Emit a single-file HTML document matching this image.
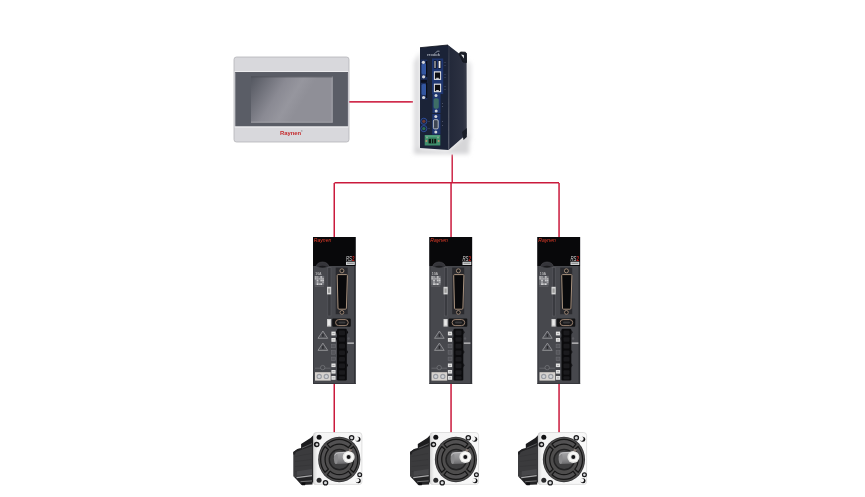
<!DOCTYPE html>
<html><head><meta charset="utf-8">
<style>
html,body{margin:0;padding:0;background:#fff;width:865px;height:497px;overflow:hidden;}
svg{position:absolute;left:0;top:0;display:block;will-change:transform;}
text{font-family:"Liberation Sans",sans-serif;}
</style></head>
<body>
<svg width="865" height="497" viewBox="0 0 865 497">
<defs>
  <linearGradient id="scr" gradientUnits="userSpaceOnUse" x1="251" y1="76" x2="300" y2="106">
    <stop offset="0" stop-color="#53565f"/>
    <stop offset="0.55" stop-color="#8a8a93"/>
    <stop offset="0.8" stop-color="#96969e"/>
    <stop offset="1" stop-color="#8f8f97"/>
  </linearGradient>
  <linearGradient id="ipcshadow" x1="0" y1="0" x2="1" y2="0">
    <stop offset="0" stop-color="#ffffff"/>
    <stop offset="1" stop-color="#d4d4d6"/>
  </linearGradient>
  <linearGradient id="ipcshadowR" x1="0" y1="0" x2="1" y2="0">
    <stop offset="0" stop-color="#d8d8da"/>
    <stop offset="1" stop-color="#ffffff"/>
  </linearGradient>
  <filter id="blur2" x="-50%" y="-50%" width="200%" height="200%"><feGaussianBlur stdDeviation="2"/></filter>
  <linearGradient id="ipcside" x1="0" y1="0" x2="1" y2="0">
    <stop offset="0" stop-color="#222839"/>
    <stop offset="0.8" stop-color="#2c3141"/>
    <stop offset="1" stop-color="#3a3e4c"/>
  </linearGradient>
  <linearGradient id="ipcfloor" x1="0" y1="0" x2="0" y2="1">
    <stop offset="0" stop-color="#c8c8ca"/>
    <stop offset="1" stop-color="#f4f4f4"/>
  </linearGradient>

  <!-- servo drive, origin top-left, 42x147 -->
  

  <linearGradient id="shaftg" x1="0" y1="0" x2="0" y2="1">
    <stop offset="0" stop-color="#a8a8aa"/>
    <stop offset="0.6" stop-color="#8c8c8e"/>
    <stop offset="1" stop-color="#6a6a6c"/>
  </linearGradient>
  <linearGradient id="flangeg" x1="0" y1="0" x2="1" y2="0">
    <stop offset="0" stop-color="#d6d6d6"/>
    <stop offset="0.08" stop-color="#f4f4f4"/>
    <stop offset="1" stop-color="#f8f8f8"/>
  </linearGradient>
  <!-- servo motor, origin = flange top-left -->
  
</defs>

<!-- red connection lines -->
<g fill="#ca1a3c">
  <rect x="348.5" y="101" width="64.5" height="1.7" fill="#d02c4c"/>
  <rect x="451.5" y="154.5" width="1.4" height="28"/>
  <rect x="334.5" y="182" width="224.5" height="1.5"/>
  <rect x="333.5" y="183" width="1.5" height="54"/>
  <rect x="450.3" y="183" width="1.5" height="54"/>
  <rect x="558.3" y="183" width="1.5" height="54"/>
  <rect x="333.5" y="384" width="1.5" height="48.5"/>
  <rect x="450.3" y="384" width="1.5" height="48.5"/>
  <rect x="558.3" y="384" width="1.5" height="48.5"/>
</g>

<!-- HMI -->
<g>
  <rect x="234" y="57" width="115" height="85" rx="2.5" fill="#d8d8dc" stroke="#b4b4b8" stroke-width="0.8"/>
  <rect x="235.3" y="72" width="112.6" height="54.5" fill="#5a5d66"/>
  <rect x="235.3" y="72" width="112.6" height="1" fill="#4c4f58"/>
  <rect x="234.6" y="71.2" width="113.8" height="0.9" fill="#f2f2f4"/>
  <rect x="234.6" y="126.5" width="113.8" height="1" fill="#f2f2f4"/>
  <rect x="251" y="76.5" width="81.5" height="46" fill="url(#scr)"/>
  <rect x="331.7" y="76.5" width="0.9" height="46" fill="#a8a8ae"/>
  <rect x="251" y="121.7" width="81.5" height="0.9" fill="#a4a4aa"/>
  <rect x="251" y="76.5" width="81.5" height="0.8" fill="#4a4d55"/>
  <text x="279.9" y="134.9" font-size="5.8" font-weight="bold" fill="#c42a2c" textLength="21.3" lengthAdjust="spacingAndGlyphs">Raynen</text>
  <circle cx="301.8" cy="130.9" r="0.7" fill="#8a8a8e"/>
</g>

<!-- IPC -->
<g>
  <g filter="url(#blur2)">
    <path d="M414,62 L420,52 L420,150 L414,152 Z" fill="#dcdcde"/>
    <path d="M466,60 L471,64 L471,140 L466,136 Z" fill="#e2e2e4"/>
    <path d="M414,148 L448.5,150.5 L467,133 L470,136 L469,154 L414,154 Z" fill="#d6d6d8"/>
  </g>
  <path d="M448,45 L459,53.5 L466.6,53 L466.8,134 L448.5,150 Z" fill="url(#ipcside)"/>
  <path d="M459,53.8 L460.5,52 L465.4,52.2 L466.3,53.5 L466.5,62.5 L463,62 Z" fill="#1a1e28" stroke="#10131a" stroke-width="0.8" stroke-linejoin="round"/>
  <path d="M461,54.6 L463.8,55 L464,58.6 Z" fill="#eef0f2"/>
  <path d="M462,132 L466.8,128 L466.8,137 L463.5,140 Z" fill="#1a1e28"/>
  <path d="M449,46 L449.5,149" stroke="#3a4052" stroke-width="0.8"/>
  <path d="M420,47.7 L448,45 L448.5,150 L420,148 Z" fill="#1b2337"/>
  <path d="M420,47.7 L448,45" stroke="#0a0e18" stroke-width="0.8"/>
  <text x="427" y="55.9" font-size="4.4" fill="#aeb4c0" font-weight="bold" textLength="13" lengthAdjust="spacingAndGlyphs">rexdok</text>
  <path d="M435.5,53 Q437,50.2 439.5,51.2" fill="none" stroke="#9aa2b0" stroke-width="0.9"/>
  <!-- left DB9s -->
  <rect x="420.7" y="59.5" width="6.6" height="40" fill="#1d2f5c"/>
  <rect x="421.6" y="63.6" width="4.8" height="11" rx="1.6" fill="#3356a0"/>
  <rect x="426" y="61" width="1.3" height="16" fill="#0a0e18"/>
  <circle cx="423.4" cy="62.3" r="1.6" fill="#d4d6da"/>
  <circle cx="423.6" cy="76.8" r="1.6" fill="#d4d6da"/>
  <rect x="421" y="79.8" width="6" height="3" fill="#0c1020"/>
  <rect x="421.6" y="84" width="4.8" height="11" rx="1.6" fill="#3356a0"/>
  <rect x="426" y="83" width="1.3" height="15" fill="#0a0e18"/>
  <circle cx="423.6" cy="97.5" r="1.6" fill="#d4d6da"/>
  <!-- USB / RJ45 column -->
  <rect x="432" y="58.5" width="11.2" height="35.5" fill="#1f3670"/>
  <rect x="433.8" y="60.5" width="2.8" height="8" fill="#0c0c10"/>
  <rect x="434.4" y="61" width="1.2" height="7" fill="#c8c8ca"/>
  <rect x="438.2" y="60.5" width="3" height="8" fill="#0c0c10"/>
  <rect x="438.6" y="61" width="1.9" height="7" fill="#eeeef0"/>
  <rect x="433.9" y="71.3" width="7.2" height="8.6" fill="#e4e4e6"/>
  <rect x="434.9" y="72.5" width="5.2" height="6.3" fill="#0e0e12"/>
  <rect x="436.2" y="77.8" width="2.6" height="1" fill="#e4e4e6"/>
  <rect x="433.9" y="83.6" width="7.2" height="8.6" fill="#e4e4e6"/>
  <rect x="434.9" y="84.8" width="5.2" height="6.3" fill="#0e0e12"/>
  <rect x="436.2" y="90.1" width="2.6" height="1" fill="#e4e4e6"/>
  <g fill="#4a5066">
    <rect x="444.5" y="62" width="1" height="1"/><rect x="444.5" y="65" width="1" height="1"/>
    <rect x="444.5" y="74" width="1" height="1"/><rect x="444.5" y="77" width="1" height="1"/>
    <rect x="444.5" y="86" width="1" height="1"/><rect x="444.5" y="89" width="1" height="1"/>
    <rect x="442" y="103" width="1" height="1"/><rect x="442" y="106" width="1" height="1"/>
    <rect x="442" y="121" width="1" height="1"/><rect x="442" y="125" width="1" height="1"/>
    <rect x="428.5" y="121" width="1" height="1"/><rect x="428.5" y="128" width="1" height="1"/>
  </g>
  <!-- green DB9 -->
  <rect x="432.5" y="93.5" width="8" height="19.5" fill="#1f3670"/>
  <circle cx="436" cy="95.6" r="1.5" fill="#d4d6da"/>
  <rect x="433.6" y="98.3" width="5.2" height="10.5" rx="1.8" fill="#3e6e66"/>
  <circle cx="436.2" cy="111" r="1.5" fill="#d4d6da"/>
  <!-- gray DB9 -->
  <rect x="432.2" y="114" width="8.2" height="20.5" fill="#1f3670"/>
  <circle cx="435.8" cy="116.5" r="1.5" fill="#d4d6da"/>
  <rect x="433.4" y="119.7" width="4.8" height="9.2" rx="1.2" fill="#3e4654" stroke="#c4c8d0" stroke-width="0.9"/>
  <circle cx="435.8" cy="132" r="1.5" fill="#d4d6da"/>
  <!-- LEDs -->
  <circle cx="423.8" cy="121.3" r="3.1" fill="#1a2544" stroke="#2d4c96" stroke-width="1"/>
  <circle cx="423.8" cy="121.3" r="1.6" fill="#6e3a30"/>
  <circle cx="423.8" cy="128.6" r="3.1" fill="#1a2544" stroke="#2d4c96" stroke-width="1"/>
  <circle cx="423.8" cy="128.6" r="1.6" fill="#2e6e50"/>
  <!-- green terminal -->
  <rect x="424.7" y="135" width="15.6" height="10.5" fill="#3f8f6c"/>
  <rect x="425.2" y="135.5" width="14.6" height="1.2" fill="#5aa886"/>
  <circle cx="427" cy="137.5" r="1" fill="#8aa890"/>
  <circle cx="438" cy="137.5" r="1" fill="#8aa890"/>
  <circle cx="426.4" cy="141" r="1" fill="#c09070"/>
  <circle cx="438.6" cy="141" r="1" fill="#c09070"/>
  <rect x="428.6" y="138.8" width="7.6" height="4.6" fill="#0e1612"/>
  <rect x="431" y="138.8" width="0.8" height="4.6" fill="#3f8f6c"/>
  <rect x="433.4" y="138.8" width="0.8" height="4.6" fill="#3f8f6c"/>
</g>

<!-- drives -->
<g transform="translate(313,237)">
    <rect x="0" y="0" width="42.6" height="147" fill="#47484d"/>
    <rect x="0" y="0" width="1" height="147" fill="#36373c"/>
    <rect x="41" y="29" width="1.6" height="118" fill="#313237"/>
    <rect x="0" y="146" width="42.6" height="1" fill="#36373c"/>
    <rect x="0" y="0" width="42.6" height="29" fill="#08080a"/>
    <path d="M3,30.5 Q3.5,25.2 9.5,25 Q15.5,25.2 16,30.5 Z" fill="#35353a" stroke="#55555a" stroke-width="0.5"/>
    <path d="M5,30 Q9.5,27.5 14,30 Q9.5,31.5 5,30 Z" fill="#1a1a1d"/>
    <text x="0.8" y="4.7" font-size="5.5" fill="#e03a28" font-style="italic" textLength="17.5" lengthAdjust="spacingAndGlyphs">Raynen</text>
    <!-- RS2 logo -->
    <text x="33" y="23.8" font-size="6.6" fill="#d8d8d8" font-style="italic" textLength="6" lengthAdjust="spacingAndGlyphs">RS</text>
    <text x="39" y="23.8" font-size="6.6" fill="#c8201c" font-weight="bold" textLength="2.6" lengthAdjust="spacingAndGlyphs">2</text>
    <rect x="33" y="24.7" width="8.8" height="3.3" fill="#cfd2d4"/>
    <rect x="34" y="25.8" width="6.8" height="0.8" fill="#6a6a6a"/>
    <!-- label text block -->
    <text x="2.2" y="38.4" font-size="3" fill="#b4b4b6" font-weight="bold" textLength="6.5" lengthAdjust="spacingAndGlyphs">10A</text>
    <rect x="1.6" y="38.9" width="9.6" height="9.4" fill="#6e6f74"/>
    <rect x="1.80" y="39.10" width="1.75" height="1.7" fill="#b0b0b2"/>
    <rect x="3.65" y="39.10" width="1.75" height="1.7" fill="#a0a0a4"/>
    <rect x="7.35" y="39.10" width="1.75" height="1.7" fill="#c8c8ca"/>
    <rect x="1.80" y="40.90" width="1.75" height="1.7" fill="#b0b0b2"/>
    <rect x="3.65" y="40.90" width="1.75" height="1.7" fill="#a0a0a4"/>
    <rect x="5.50" y="40.90" width="1.75" height="1.7" fill="#a0a0a4"/>
    <rect x="7.35" y="40.90" width="1.75" height="1.7" fill="#b0b0b2"/>
    <rect x="9.20" y="40.90" width="1.75" height="1.7" fill="#b0b0b2"/>
    <rect x="3.65" y="42.70" width="1.75" height="1.7" fill="#c8c8ca"/>
    <rect x="7.35" y="42.70" width="1.75" height="1.7" fill="#c8c8ca"/>
    <rect x="9.20" y="42.70" width="1.75" height="1.7" fill="#c8c8ca"/>
    <rect x="3.65" y="44.50" width="1.75" height="1.7" fill="#a0a0a4"/>
    <rect x="9.20" y="44.50" width="1.75" height="1.7" fill="#a0a0a4"/>
    <rect x="3.65" y="46.30" width="1.75" height="1.7" fill="#d6d6d8"/>
    <rect x="5.50" y="46.30" width="1.75" height="1.7" fill="#b0b0b2"/>
    <rect x="7.35" y="46.30" width="1.75" height="1.7" fill="#d6d6d8"/>
    <rect x="1.8" y="49" width="9" height="0.6" fill="#66676c"/>
    <!-- vertical slot -->
    <rect x="14.8" y="30.5" width="3.2" height="48.5" fill="#3a3b40" stroke="#5a5b60" stroke-width="0.6"/>
    <rect x="14" y="49.8" width="4.2" height="7.6" fill="#d6d6d6"/>
    <rect x="15" y="51.4" width="2.2" height="4.4" fill="#9a9a9a"/>
    <!-- D-sub connector -->
    <rect x="22.7" y="30.6" width="12" height="46.6" fill="#2a2a2e"/>
    <path d="M25,37.6 L33.6,37.6 Q34.5,37.6 34.4,38.6 L33.4,71.2 Q33.3,72.2 32.4,72.2 L26,72.2 Q25.1,72.2 25,71.2 L24.2,38.6 Q24.2,37.6 25,37.6 Z" fill="#09090b" stroke="#a8927e" stroke-width="1"/>
    <circle cx="28.9" cy="33.8" r="2" fill="#1a1a1c" stroke="#a8927e" stroke-width="0.9"/>
    <circle cx="28.9" cy="75.4" r="1.9" fill="#1a1a1c" stroke="#a08a78" stroke-width="0.9"/>
    <!-- USB style -->
    <rect x="19.2" y="81.6" width="18.6" height="8.2" rx="1" fill="#121214"/>
    <rect x="22.6" y="82.6" width="12.6" height="6" rx="3" fill="#18181a" stroke="#9a8270" stroke-width="1"/>
    <rect x="25.5" y="84.6" width="7" height="2" rx="1" fill="#3a3a3c"/>
    <rect x="14" y="82" width="4.2" height="7.6" fill="#cfcfcf"/>
    <rect x="15" y="83.2" width="2.2" height="5" fill="#eaeaea"/>
    <!-- terminal block -->
    <rect x="24" y="91.8" width="9.8" height="51.6" rx="1.2" fill="#0b0b0d"/>
    <g fill="#1a1a1d">
      <rect x="26" y="93.6" width="6" height="4.6" rx="1"/>
      <rect x="26" y="100.2" width="6" height="4.6" rx="1"/>
      <rect x="26" y="106.8" width="6" height="4.6" rx="1"/>
      <rect x="26" y="113.4" width="6" height="4.6" rx="1"/>
      <rect x="26" y="120" width="6" height="4.6" rx="1"/>
      <rect x="26" y="126.6" width="6" height="4.6" rx="1"/>
      <rect x="26" y="133.2" width="6" height="4.6" rx="1"/>
      <rect x="26" y="139.2" width="6" height="3.4" rx="1"/>
    </g>
    <g fill="#0b0b0d">
      <path d="M24,93 L22.8,95 L24,97.5 Z"/><path d="M24,99.6 L22.8,101.6 L24,104 Z"/>
      <path d="M33.8,93 L35.2,95.2 L33.8,97.5 Z"/><path d="M33.8,112.8 L35,115 L33.8,117.2 Z"/>
      <path d="M33.8,126 L35,128.2 L33.8,130.4 Z"/>
    </g>
    <!-- right of terminal -->
    <circle cx="35.6" cy="101.5" r="1.2" fill="#5a5b60"/>
    <rect x="34.3" y="105.4" width="6.6" height="1.5" fill="#b4b4b6"/>
    <!-- labels next to terminals -->
    <g fill="#e2e2e2">
      <rect x="18.4" y="94.6" width="4.2" height="3.8"/>
      <rect x="18.4" y="101" width="4.2" height="3.8"/>
      <rect x="18.4" y="126.5" width="4.2" height="3.6"/>
      <rect x="18.4" y="133" width="4.2" height="3.6"/>
      <rect x="18.4" y="139" width="4.2" height="3.8"/>
    </g>
    <g fill="#55565b" stroke="#707176" stroke-width="0.5">
      <rect x="18.6" y="107.2" width="3.8" height="3.6"/>
      <rect x="18.6" y="113.6" width="3.8" height="3.6"/>
      <rect x="18.6" y="120.1" width="3.8" height="3.6"/>
    </g>
    <g fill="#8a8a8a">
      <rect x="19.4" y="96.2" width="2.2" height="0.6"/><rect x="19.4" y="102.6" width="2.2" height="0.6"/>
      <rect x="19.4" y="128" width="2.2" height="0.6"/><rect x="19.4" y="134.5" width="2.2" height="0.6"/>
      <rect x="19.4" y="140.6" width="2.2" height="0.6"/>
    </g>
    <!-- warning triangles -->
    <path d="M9.9,94 L14.7,101.3 L5,101.3 Z" fill="#505156" stroke="#9a9a9e" stroke-width="0.8" stroke-linejoin="round"/>
    <path d="M9.9,106.1 L14.7,113.4 L5,113.4 Z" fill="#505156" stroke="#9a9a9e" stroke-width="0.8" stroke-linejoin="round"/>
    <rect x="9.2" y="96.8" width="1.4" height="3" fill="#2a2a2e"/>
    <rect x="9.2" y="108.9" width="1.4" height="3" fill="#2a2a2e"/>
    <!-- ground -->
    <path d="M2,131.2 L17.5,131.2" stroke="#77787c" stroke-width="0.6"/>
    <circle cx="9.7" cy="130.6" r="2.2" fill="#47484d" stroke="#808185" stroke-width="0.6"/>
    <rect x="2" y="135.2" width="15.7" height="8.4" fill="#d6d2ce"/>
    <circle cx="6.2" cy="139.4" r="2.7" fill="#9a9ca2"/>
    <circle cx="6.2" cy="139.4" r="1.5" fill="#d0d2d6"/>
    <circle cx="13.3" cy="139.4" r="2.7" fill="#9a9ca2"/>
    <circle cx="13.3" cy="139.4" r="1.5" fill="#d0d2d6"/>
  </g>
<g transform="translate(429.5,237)">
    <rect x="0" y="0" width="42.6" height="147" fill="#47484d"/>
    <rect x="0" y="0" width="1" height="147" fill="#36373c"/>
    <rect x="41" y="29" width="1.6" height="118" fill="#313237"/>
    <rect x="0" y="146" width="42.6" height="1" fill="#36373c"/>
    <rect x="0" y="0" width="42.6" height="29" fill="#08080a"/>
    <path d="M3,30.5 Q3.5,25.2 9.5,25 Q15.5,25.2 16,30.5 Z" fill="#35353a" stroke="#55555a" stroke-width="0.5"/>
    <path d="M5,30 Q9.5,27.5 14,30 Q9.5,31.5 5,30 Z" fill="#1a1a1d"/>
    <text x="0.8" y="4.7" font-size="5.5" fill="#e03a28" font-style="italic" textLength="17.5" lengthAdjust="spacingAndGlyphs">Raynen</text>
    <!-- RS2 logo -->
    <text x="33" y="23.8" font-size="6.6" fill="#d8d8d8" font-style="italic" textLength="6" lengthAdjust="spacingAndGlyphs">RS</text>
    <text x="39" y="23.8" font-size="6.6" fill="#c8201c" font-weight="bold" textLength="2.6" lengthAdjust="spacingAndGlyphs">2</text>
    <rect x="33" y="24.7" width="8.8" height="3.3" fill="#cfd2d4"/>
    <rect x="34" y="25.8" width="6.8" height="0.8" fill="#6a6a6a"/>
    <!-- label text block -->
    <text x="2.2" y="38.4" font-size="3" fill="#b4b4b6" font-weight="bold" textLength="6.5" lengthAdjust="spacingAndGlyphs">10A</text>
    <rect x="1.6" y="38.9" width="9.6" height="9.4" fill="#6e6f74"/>
    <rect x="1.80" y="39.10" width="1.75" height="1.7" fill="#b0b0b2"/>
    <rect x="3.65" y="39.10" width="1.75" height="1.7" fill="#a0a0a4"/>
    <rect x="7.35" y="39.10" width="1.75" height="1.7" fill="#c8c8ca"/>
    <rect x="1.80" y="40.90" width="1.75" height="1.7" fill="#b0b0b2"/>
    <rect x="3.65" y="40.90" width="1.75" height="1.7" fill="#a0a0a4"/>
    <rect x="5.50" y="40.90" width="1.75" height="1.7" fill="#a0a0a4"/>
    <rect x="7.35" y="40.90" width="1.75" height="1.7" fill="#b0b0b2"/>
    <rect x="9.20" y="40.90" width="1.75" height="1.7" fill="#b0b0b2"/>
    <rect x="3.65" y="42.70" width="1.75" height="1.7" fill="#c8c8ca"/>
    <rect x="7.35" y="42.70" width="1.75" height="1.7" fill="#c8c8ca"/>
    <rect x="9.20" y="42.70" width="1.75" height="1.7" fill="#c8c8ca"/>
    <rect x="3.65" y="44.50" width="1.75" height="1.7" fill="#a0a0a4"/>
    <rect x="9.20" y="44.50" width="1.75" height="1.7" fill="#a0a0a4"/>
    <rect x="3.65" y="46.30" width="1.75" height="1.7" fill="#d6d6d8"/>
    <rect x="5.50" y="46.30" width="1.75" height="1.7" fill="#b0b0b2"/>
    <rect x="7.35" y="46.30" width="1.75" height="1.7" fill="#d6d6d8"/>
    <rect x="1.8" y="49" width="9" height="0.6" fill="#66676c"/>
    <!-- vertical slot -->
    <rect x="14.8" y="30.5" width="3.2" height="48.5" fill="#3a3b40" stroke="#5a5b60" stroke-width="0.6"/>
    <rect x="14" y="49.8" width="4.2" height="7.6" fill="#d6d6d6"/>
    <rect x="15" y="51.4" width="2.2" height="4.4" fill="#9a9a9a"/>
    <!-- D-sub connector -->
    <rect x="22.7" y="30.6" width="12" height="46.6" fill="#2a2a2e"/>
    <path d="M25,37.6 L33.6,37.6 Q34.5,37.6 34.4,38.6 L33.4,71.2 Q33.3,72.2 32.4,72.2 L26,72.2 Q25.1,72.2 25,71.2 L24.2,38.6 Q24.2,37.6 25,37.6 Z" fill="#09090b" stroke="#a8927e" stroke-width="1"/>
    <circle cx="28.9" cy="33.8" r="2" fill="#1a1a1c" stroke="#a8927e" stroke-width="0.9"/>
    <circle cx="28.9" cy="75.4" r="1.9" fill="#1a1a1c" stroke="#a08a78" stroke-width="0.9"/>
    <!-- USB style -->
    <rect x="19.2" y="81.6" width="18.6" height="8.2" rx="1" fill="#121214"/>
    <rect x="22.6" y="82.6" width="12.6" height="6" rx="3" fill="#18181a" stroke="#9a8270" stroke-width="1"/>
    <rect x="25.5" y="84.6" width="7" height="2" rx="1" fill="#3a3a3c"/>
    <rect x="14" y="82" width="4.2" height="7.6" fill="#cfcfcf"/>
    <rect x="15" y="83.2" width="2.2" height="5" fill="#eaeaea"/>
    <!-- terminal block -->
    <rect x="24" y="91.8" width="9.8" height="51.6" rx="1.2" fill="#0b0b0d"/>
    <g fill="#1a1a1d">
      <rect x="26" y="93.6" width="6" height="4.6" rx="1"/>
      <rect x="26" y="100.2" width="6" height="4.6" rx="1"/>
      <rect x="26" y="106.8" width="6" height="4.6" rx="1"/>
      <rect x="26" y="113.4" width="6" height="4.6" rx="1"/>
      <rect x="26" y="120" width="6" height="4.6" rx="1"/>
      <rect x="26" y="126.6" width="6" height="4.6" rx="1"/>
      <rect x="26" y="133.2" width="6" height="4.6" rx="1"/>
      <rect x="26" y="139.2" width="6" height="3.4" rx="1"/>
    </g>
    <g fill="#0b0b0d">
      <path d="M24,93 L22.8,95 L24,97.5 Z"/><path d="M24,99.6 L22.8,101.6 L24,104 Z"/>
      <path d="M33.8,93 L35.2,95.2 L33.8,97.5 Z"/><path d="M33.8,112.8 L35,115 L33.8,117.2 Z"/>
      <path d="M33.8,126 L35,128.2 L33.8,130.4 Z"/>
    </g>
    <!-- right of terminal -->
    <circle cx="35.6" cy="101.5" r="1.2" fill="#5a5b60"/>
    <rect x="34.3" y="105.4" width="6.6" height="1.5" fill="#b4b4b6"/>
    <!-- labels next to terminals -->
    <g fill="#e2e2e2">
      <rect x="18.4" y="94.6" width="4.2" height="3.8"/>
      <rect x="18.4" y="101" width="4.2" height="3.8"/>
      <rect x="18.4" y="126.5" width="4.2" height="3.6"/>
      <rect x="18.4" y="133" width="4.2" height="3.6"/>
      <rect x="18.4" y="139" width="4.2" height="3.8"/>
    </g>
    <g fill="#55565b" stroke="#707176" stroke-width="0.5">
      <rect x="18.6" y="107.2" width="3.8" height="3.6"/>
      <rect x="18.6" y="113.6" width="3.8" height="3.6"/>
      <rect x="18.6" y="120.1" width="3.8" height="3.6"/>
    </g>
    <g fill="#8a8a8a">
      <rect x="19.4" y="96.2" width="2.2" height="0.6"/><rect x="19.4" y="102.6" width="2.2" height="0.6"/>
      <rect x="19.4" y="128" width="2.2" height="0.6"/><rect x="19.4" y="134.5" width="2.2" height="0.6"/>
      <rect x="19.4" y="140.6" width="2.2" height="0.6"/>
    </g>
    <!-- warning triangles -->
    <path d="M9.9,94 L14.7,101.3 L5,101.3 Z" fill="#505156" stroke="#9a9a9e" stroke-width="0.8" stroke-linejoin="round"/>
    <path d="M9.9,106.1 L14.7,113.4 L5,113.4 Z" fill="#505156" stroke="#9a9a9e" stroke-width="0.8" stroke-linejoin="round"/>
    <rect x="9.2" y="96.8" width="1.4" height="3" fill="#2a2a2e"/>
    <rect x="9.2" y="108.9" width="1.4" height="3" fill="#2a2a2e"/>
    <!-- ground -->
    <path d="M2,131.2 L17.5,131.2" stroke="#77787c" stroke-width="0.6"/>
    <circle cx="9.7" cy="130.6" r="2.2" fill="#47484d" stroke="#808185" stroke-width="0.6"/>
    <rect x="2" y="135.2" width="15.7" height="8.4" fill="#d6d2ce"/>
    <circle cx="6.2" cy="139.4" r="2.7" fill="#9a9ca2"/>
    <circle cx="6.2" cy="139.4" r="1.5" fill="#d0d2d6"/>
    <circle cx="13.3" cy="139.4" r="2.7" fill="#9a9ca2"/>
    <circle cx="13.3" cy="139.4" r="1.5" fill="#d0d2d6"/>
  </g>
<g transform="translate(537.5,237)">
    <rect x="0" y="0" width="42.6" height="147" fill="#47484d"/>
    <rect x="0" y="0" width="1" height="147" fill="#36373c"/>
    <rect x="41" y="29" width="1.6" height="118" fill="#313237"/>
    <rect x="0" y="146" width="42.6" height="1" fill="#36373c"/>
    <rect x="0" y="0" width="42.6" height="29" fill="#08080a"/>
    <path d="M3,30.5 Q3.5,25.2 9.5,25 Q15.5,25.2 16,30.5 Z" fill="#35353a" stroke="#55555a" stroke-width="0.5"/>
    <path d="M5,30 Q9.5,27.5 14,30 Q9.5,31.5 5,30 Z" fill="#1a1a1d"/>
    <text x="0.8" y="4.7" font-size="5.5" fill="#e03a28" font-style="italic" textLength="17.5" lengthAdjust="spacingAndGlyphs">Raynen</text>
    <!-- RS2 logo -->
    <text x="33" y="23.8" font-size="6.6" fill="#d8d8d8" font-style="italic" textLength="6" lengthAdjust="spacingAndGlyphs">RS</text>
    <text x="39" y="23.8" font-size="6.6" fill="#c8201c" font-weight="bold" textLength="2.6" lengthAdjust="spacingAndGlyphs">2</text>
    <rect x="33" y="24.7" width="8.8" height="3.3" fill="#cfd2d4"/>
    <rect x="34" y="25.8" width="6.8" height="0.8" fill="#6a6a6a"/>
    <!-- label text block -->
    <text x="2.2" y="38.4" font-size="3" fill="#b4b4b6" font-weight="bold" textLength="6.5" lengthAdjust="spacingAndGlyphs">10A</text>
    <rect x="1.6" y="38.9" width="9.6" height="9.4" fill="#6e6f74"/>
    <rect x="1.80" y="39.10" width="1.75" height="1.7" fill="#b0b0b2"/>
    <rect x="3.65" y="39.10" width="1.75" height="1.7" fill="#a0a0a4"/>
    <rect x="7.35" y="39.10" width="1.75" height="1.7" fill="#c8c8ca"/>
    <rect x="1.80" y="40.90" width="1.75" height="1.7" fill="#b0b0b2"/>
    <rect x="3.65" y="40.90" width="1.75" height="1.7" fill="#a0a0a4"/>
    <rect x="5.50" y="40.90" width="1.75" height="1.7" fill="#a0a0a4"/>
    <rect x="7.35" y="40.90" width="1.75" height="1.7" fill="#b0b0b2"/>
    <rect x="9.20" y="40.90" width="1.75" height="1.7" fill="#b0b0b2"/>
    <rect x="3.65" y="42.70" width="1.75" height="1.7" fill="#c8c8ca"/>
    <rect x="7.35" y="42.70" width="1.75" height="1.7" fill="#c8c8ca"/>
    <rect x="9.20" y="42.70" width="1.75" height="1.7" fill="#c8c8ca"/>
    <rect x="3.65" y="44.50" width="1.75" height="1.7" fill="#a0a0a4"/>
    <rect x="9.20" y="44.50" width="1.75" height="1.7" fill="#a0a0a4"/>
    <rect x="3.65" y="46.30" width="1.75" height="1.7" fill="#d6d6d8"/>
    <rect x="5.50" y="46.30" width="1.75" height="1.7" fill="#b0b0b2"/>
    <rect x="7.35" y="46.30" width="1.75" height="1.7" fill="#d6d6d8"/>
    <rect x="1.8" y="49" width="9" height="0.6" fill="#66676c"/>
    <!-- vertical slot -->
    <rect x="14.8" y="30.5" width="3.2" height="48.5" fill="#3a3b40" stroke="#5a5b60" stroke-width="0.6"/>
    <rect x="14" y="49.8" width="4.2" height="7.6" fill="#d6d6d6"/>
    <rect x="15" y="51.4" width="2.2" height="4.4" fill="#9a9a9a"/>
    <!-- D-sub connector -->
    <rect x="22.7" y="30.6" width="12" height="46.6" fill="#2a2a2e"/>
    <path d="M25,37.6 L33.6,37.6 Q34.5,37.6 34.4,38.6 L33.4,71.2 Q33.3,72.2 32.4,72.2 L26,72.2 Q25.1,72.2 25,71.2 L24.2,38.6 Q24.2,37.6 25,37.6 Z" fill="#09090b" stroke="#a8927e" stroke-width="1"/>
    <circle cx="28.9" cy="33.8" r="2" fill="#1a1a1c" stroke="#a8927e" stroke-width="0.9"/>
    <circle cx="28.9" cy="75.4" r="1.9" fill="#1a1a1c" stroke="#a08a78" stroke-width="0.9"/>
    <!-- USB style -->
    <rect x="19.2" y="81.6" width="18.6" height="8.2" rx="1" fill="#121214"/>
    <rect x="22.6" y="82.6" width="12.6" height="6" rx="3" fill="#18181a" stroke="#9a8270" stroke-width="1"/>
    <rect x="25.5" y="84.6" width="7" height="2" rx="1" fill="#3a3a3c"/>
    <rect x="14" y="82" width="4.2" height="7.6" fill="#cfcfcf"/>
    <rect x="15" y="83.2" width="2.2" height="5" fill="#eaeaea"/>
    <!-- terminal block -->
    <rect x="24" y="91.8" width="9.8" height="51.6" rx="1.2" fill="#0b0b0d"/>
    <g fill="#1a1a1d">
      <rect x="26" y="93.6" width="6" height="4.6" rx="1"/>
      <rect x="26" y="100.2" width="6" height="4.6" rx="1"/>
      <rect x="26" y="106.8" width="6" height="4.6" rx="1"/>
      <rect x="26" y="113.4" width="6" height="4.6" rx="1"/>
      <rect x="26" y="120" width="6" height="4.6" rx="1"/>
      <rect x="26" y="126.6" width="6" height="4.6" rx="1"/>
      <rect x="26" y="133.2" width="6" height="4.6" rx="1"/>
      <rect x="26" y="139.2" width="6" height="3.4" rx="1"/>
    </g>
    <g fill="#0b0b0d">
      <path d="M24,93 L22.8,95 L24,97.5 Z"/><path d="M24,99.6 L22.8,101.6 L24,104 Z"/>
      <path d="M33.8,93 L35.2,95.2 L33.8,97.5 Z"/><path d="M33.8,112.8 L35,115 L33.8,117.2 Z"/>
      <path d="M33.8,126 L35,128.2 L33.8,130.4 Z"/>
    </g>
    <!-- right of terminal -->
    <circle cx="35.6" cy="101.5" r="1.2" fill="#5a5b60"/>
    <rect x="34.3" y="105.4" width="6.6" height="1.5" fill="#b4b4b6"/>
    <!-- labels next to terminals -->
    <g fill="#e2e2e2">
      <rect x="18.4" y="94.6" width="4.2" height="3.8"/>
      <rect x="18.4" y="101" width="4.2" height="3.8"/>
      <rect x="18.4" y="126.5" width="4.2" height="3.6"/>
      <rect x="18.4" y="133" width="4.2" height="3.6"/>
      <rect x="18.4" y="139" width="4.2" height="3.8"/>
    </g>
    <g fill="#55565b" stroke="#707176" stroke-width="0.5">
      <rect x="18.6" y="107.2" width="3.8" height="3.6"/>
      <rect x="18.6" y="113.6" width="3.8" height="3.6"/>
      <rect x="18.6" y="120.1" width="3.8" height="3.6"/>
    </g>
    <g fill="#8a8a8a">
      <rect x="19.4" y="96.2" width="2.2" height="0.6"/><rect x="19.4" y="102.6" width="2.2" height="0.6"/>
      <rect x="19.4" y="128" width="2.2" height="0.6"/><rect x="19.4" y="134.5" width="2.2" height="0.6"/>
      <rect x="19.4" y="140.6" width="2.2" height="0.6"/>
    </g>
    <!-- warning triangles -->
    <path d="M9.9,94 L14.7,101.3 L5,101.3 Z" fill="#505156" stroke="#9a9a9e" stroke-width="0.8" stroke-linejoin="round"/>
    <path d="M9.9,106.1 L14.7,113.4 L5,113.4 Z" fill="#505156" stroke="#9a9a9e" stroke-width="0.8" stroke-linejoin="round"/>
    <rect x="9.2" y="96.8" width="1.4" height="3" fill="#2a2a2e"/>
    <rect x="9.2" y="108.9" width="1.4" height="3" fill="#2a2a2e"/>
    <!-- ground -->
    <path d="M2,131.2 L17.5,131.2" stroke="#77787c" stroke-width="0.6"/>
    <circle cx="9.7" cy="130.6" r="2.2" fill="#47484d" stroke="#808185" stroke-width="0.6"/>
    <rect x="2" y="135.2" width="15.7" height="8.4" fill="#d6d2ce"/>
    <circle cx="6.2" cy="139.4" r="2.7" fill="#9a9ca2"/>
    <circle cx="6.2" cy="139.4" r="1.5" fill="#d0d2d6"/>
    <circle cx="13.3" cy="139.4" r="2.7" fill="#9a9ca2"/>
    <circle cx="13.3" cy="139.4" r="1.5" fill="#d0d2d6"/>
  </g>

<!-- motors -->
<g transform="translate(313.5,432.5)">
    <!-- rear body -->
    <path d="M-12.4,11.5 L-3,5.5 L0,2.5 L0,50 L-12.4,50 Z" fill="#1c1c1e"/>
    <path d="M-20.2,19.6 L-16,16.5 L-12.4,15.8 L-1,12 L-1,43 L-20.2,43.8 Z" fill="#3b3b3d"/>
    <path d="M-20.2,19.6 L-16,16.5 L-12.4,15.8 L-1,12 L-1,13.4 L-12,17.2 L-17.6,19.4 L-18.6,22 L-20.2,22 Z" fill="#222224"/>
    <path d="M-11.5,15.6 L-1.5,11.2" stroke="#606062" stroke-width="0.9"/>
    <g stroke="#333335" stroke-width="0.5">
      <path d="M-18.5,24 L-2,21"/><path d="M-18.5,29 L-2,27"/><path d="M-18.5,34 L-2,32.5"/><path d="M-18.5,39 L-2,38"/>
    </g>
    <path d="M-16.5,38.8 L-1.5,36.5 L-1.5,41.8 L-16.5,43.3 Z" fill="#47474a"/>
    <path d="M-20.2,43.8 L-1,43 L-1,52 L-12,52.5 L-17,47 Z" fill="#232325"/>
    <path d="M-17,45.1 L-1.5,43.1" stroke="#a8a8aa" stroke-width="1.3"/>
    <path d="M-13,49.2 L-1.5,48.4" stroke="#8a8a8c" stroke-width="0.8"/>
    <path d="M-12,50 L-8,50 L-8.5,52.8 L-11.5,52.8 Z" fill="#0e0e10"/>
    <!-- flange -->
    <path d="M2.5,0 L45.4,0 Q48.4,0 48.4,3 L48.4,49.5 Q48.4,51.9 45.9,51.9 L1.2,51.9 Q-0.2,51.9 0,49.5 L0,2.5 Q0,0 2.5,0 Z" fill="url(#flangeg)" stroke="#c4c4c4" stroke-width="0.5"/>
    <!-- holes -->
    <circle cx="5.6" cy="4.8" r="2.5" fill="#111113"/>
    <circle cx="3.2" cy="12" r="2.8" fill="#1a1a1c"/>
    <circle cx="3.4" cy="12" r="1.3" fill="#dcdcdc"/>
    <circle cx="38.1" cy="5.2" r="2.8" fill="#1a1a1c"/>
    <circle cx="38.1" cy="5.2" r="1.5" fill="#d8dadc"/>
    <circle cx="44.5" cy="6.8" r="2.5" fill="#111113"/>
    <circle cx="43.4" cy="6.3" r="2.1" fill="#f4f4f4"/>
    <circle cx="46.2" cy="42.2" r="2.5" fill="#1a1a1c"/>
    <circle cx="46.2" cy="42.2" r="1.3" fill="#d8dadc"/>
    <circle cx="44.8" cy="48.3" r="2.5" fill="#111113"/>
    <circle cx="43.7" cy="47.8" r="2.1" fill="#f4f4f4"/>
    <circle cx="5.6" cy="47.8" r="2.5" fill="#2a2a2c"/>
    <circle cx="12" cy="50.2" r="2.8" fill="#1a1a1c"/>
    <circle cx="12" cy="50.2" r="1.5" fill="#d8dadc"/>
    <!-- ring -->
    <ellipse cx="25.75" cy="26.9" rx="21.1" ry="22.75" fill="#363638"/>
    <ellipse cx="25.75" cy="26.9" rx="20.3" ry="21.9" fill="#4e4d4d"/>
    <g fill="#525152" stroke="#161616" stroke-width="1.2" stroke-linejoin="round">
      <path d="M13.79,11.54 A18.6,20.05 0 0,1 37.71,11.54 L34.88,15.17 A14.2,15.31 0 0,0 16.62,15.17 Z"/>
      <path d="M40.00,14.01 A18.6,20.05 0 0,1 40.00,39.79 L36.63,36.74 A14.2,15.31 0 0,0 36.63,17.06 Z"/>
      <path d="M37.71,42.26 A18.6,20.05 0 0,1 13.79,42.26 L16.62,38.63 A14.2,15.31 0 0,0 34.88,38.63 Z"/>
      <path d="M11.50,39.79 A18.6,20.05 0 0,1 11.50,14.01 L14.87,17.06 A14.2,15.31 0 0,0 14.87,36.74 Z"/>
    </g>
    <circle cx="26" cy="27.1" r="10.2" fill="#404041" stroke="#222223" stroke-width="1.4"/>
    <!-- shaft -->
    <path d="M22.2,19.9 L35,19 L35,31 L22.2,31.6 Z" fill="url(#shaftg)"/>
    <ellipse cx="22.4" cy="25.75" rx="2" ry="5.85" fill="#8a8a8c"/>
    <path d="M21.2,23 Q22,20.6 24.5,20.3 L33,19.8" fill="none" stroke="#c4c4c6" stroke-width="0.9"/>
    <circle cx="35.2" cy="24.55" r="6" fill="#e8e8e6"/>
    <circle cx="35.3" cy="24.4" r="4.6" fill="#fafaf8"/>
    <circle cx="35.2" cy="24.4" r="3" fill="#e2e2e0"/>
    <circle cx="35.1" cy="24.4" r="2" fill="#141416"/>
    <path d="M35.8,16.4 L38.6,17 L37.8,19.2 L35.1,18.6Z" fill="#8a7e78"/>
  </g>
<g transform="translate(430.2,432.5)">
    <!-- rear body -->
    <path d="M-12.4,11.5 L-3,5.5 L0,2.5 L0,50 L-12.4,50 Z" fill="#1c1c1e"/>
    <path d="M-20.2,19.6 L-16,16.5 L-12.4,15.8 L-1,12 L-1,43 L-20.2,43.8 Z" fill="#3b3b3d"/>
    <path d="M-20.2,19.6 L-16,16.5 L-12.4,15.8 L-1,12 L-1,13.4 L-12,17.2 L-17.6,19.4 L-18.6,22 L-20.2,22 Z" fill="#222224"/>
    <path d="M-11.5,15.6 L-1.5,11.2" stroke="#606062" stroke-width="0.9"/>
    <g stroke="#333335" stroke-width="0.5">
      <path d="M-18.5,24 L-2,21"/><path d="M-18.5,29 L-2,27"/><path d="M-18.5,34 L-2,32.5"/><path d="M-18.5,39 L-2,38"/>
    </g>
    <path d="M-16.5,38.8 L-1.5,36.5 L-1.5,41.8 L-16.5,43.3 Z" fill="#47474a"/>
    <path d="M-20.2,43.8 L-1,43 L-1,52 L-12,52.5 L-17,47 Z" fill="#232325"/>
    <path d="M-17,45.1 L-1.5,43.1" stroke="#a8a8aa" stroke-width="1.3"/>
    <path d="M-13,49.2 L-1.5,48.4" stroke="#8a8a8c" stroke-width="0.8"/>
    <path d="M-12,50 L-8,50 L-8.5,52.8 L-11.5,52.8 Z" fill="#0e0e10"/>
    <!-- flange -->
    <path d="M2.5,0 L45.4,0 Q48.4,0 48.4,3 L48.4,49.5 Q48.4,51.9 45.9,51.9 L1.2,51.9 Q-0.2,51.9 0,49.5 L0,2.5 Q0,0 2.5,0 Z" fill="url(#flangeg)" stroke="#c4c4c4" stroke-width="0.5"/>
    <!-- holes -->
    <circle cx="5.6" cy="4.8" r="2.5" fill="#111113"/>
    <circle cx="3.2" cy="12" r="2.8" fill="#1a1a1c"/>
    <circle cx="3.4" cy="12" r="1.3" fill="#dcdcdc"/>
    <circle cx="38.1" cy="5.2" r="2.8" fill="#1a1a1c"/>
    <circle cx="38.1" cy="5.2" r="1.5" fill="#d8dadc"/>
    <circle cx="44.5" cy="6.8" r="2.5" fill="#111113"/>
    <circle cx="43.4" cy="6.3" r="2.1" fill="#f4f4f4"/>
    <circle cx="46.2" cy="42.2" r="2.5" fill="#1a1a1c"/>
    <circle cx="46.2" cy="42.2" r="1.3" fill="#d8dadc"/>
    <circle cx="44.8" cy="48.3" r="2.5" fill="#111113"/>
    <circle cx="43.7" cy="47.8" r="2.1" fill="#f4f4f4"/>
    <circle cx="5.6" cy="47.8" r="2.5" fill="#2a2a2c"/>
    <circle cx="12" cy="50.2" r="2.8" fill="#1a1a1c"/>
    <circle cx="12" cy="50.2" r="1.5" fill="#d8dadc"/>
    <!-- ring -->
    <ellipse cx="25.75" cy="26.9" rx="21.1" ry="22.75" fill="#363638"/>
    <ellipse cx="25.75" cy="26.9" rx="20.3" ry="21.9" fill="#4e4d4d"/>
    <g fill="#525152" stroke="#161616" stroke-width="1.2" stroke-linejoin="round">
      <path d="M13.79,11.54 A18.6,20.05 0 0,1 37.71,11.54 L34.88,15.17 A14.2,15.31 0 0,0 16.62,15.17 Z"/>
      <path d="M40.00,14.01 A18.6,20.05 0 0,1 40.00,39.79 L36.63,36.74 A14.2,15.31 0 0,0 36.63,17.06 Z"/>
      <path d="M37.71,42.26 A18.6,20.05 0 0,1 13.79,42.26 L16.62,38.63 A14.2,15.31 0 0,0 34.88,38.63 Z"/>
      <path d="M11.50,39.79 A18.6,20.05 0 0,1 11.50,14.01 L14.87,17.06 A14.2,15.31 0 0,0 14.87,36.74 Z"/>
    </g>
    <circle cx="26" cy="27.1" r="10.2" fill="#404041" stroke="#222223" stroke-width="1.4"/>
    <!-- shaft -->
    <path d="M22.2,19.9 L35,19 L35,31 L22.2,31.6 Z" fill="url(#shaftg)"/>
    <ellipse cx="22.4" cy="25.75" rx="2" ry="5.85" fill="#8a8a8c"/>
    <path d="M21.2,23 Q22,20.6 24.5,20.3 L33,19.8" fill="none" stroke="#c4c4c6" stroke-width="0.9"/>
    <circle cx="35.2" cy="24.55" r="6" fill="#e8e8e6"/>
    <circle cx="35.3" cy="24.4" r="4.6" fill="#fafaf8"/>
    <circle cx="35.2" cy="24.4" r="3" fill="#e2e2e0"/>
    <circle cx="35.1" cy="24.4" r="2" fill="#141416"/>
    <path d="M35.8,16.4 L38.6,17 L37.8,19.2 L35.1,18.6Z" fill="#8a7e78"/>
  </g>
<g transform="translate(538.2,432.5)">
    <!-- rear body -->
    <path d="M-12.4,11.5 L-3,5.5 L0,2.5 L0,50 L-12.4,50 Z" fill="#1c1c1e"/>
    <path d="M-20.2,19.6 L-16,16.5 L-12.4,15.8 L-1,12 L-1,43 L-20.2,43.8 Z" fill="#3b3b3d"/>
    <path d="M-20.2,19.6 L-16,16.5 L-12.4,15.8 L-1,12 L-1,13.4 L-12,17.2 L-17.6,19.4 L-18.6,22 L-20.2,22 Z" fill="#222224"/>
    <path d="M-11.5,15.6 L-1.5,11.2" stroke="#606062" stroke-width="0.9"/>
    <g stroke="#333335" stroke-width="0.5">
      <path d="M-18.5,24 L-2,21"/><path d="M-18.5,29 L-2,27"/><path d="M-18.5,34 L-2,32.5"/><path d="M-18.5,39 L-2,38"/>
    </g>
    <path d="M-16.5,38.8 L-1.5,36.5 L-1.5,41.8 L-16.5,43.3 Z" fill="#47474a"/>
    <path d="M-20.2,43.8 L-1,43 L-1,52 L-12,52.5 L-17,47 Z" fill="#232325"/>
    <path d="M-17,45.1 L-1.5,43.1" stroke="#a8a8aa" stroke-width="1.3"/>
    <path d="M-13,49.2 L-1.5,48.4" stroke="#8a8a8c" stroke-width="0.8"/>
    <path d="M-12,50 L-8,50 L-8.5,52.8 L-11.5,52.8 Z" fill="#0e0e10"/>
    <!-- flange -->
    <path d="M2.5,0 L45.4,0 Q48.4,0 48.4,3 L48.4,49.5 Q48.4,51.9 45.9,51.9 L1.2,51.9 Q-0.2,51.9 0,49.5 L0,2.5 Q0,0 2.5,0 Z" fill="url(#flangeg)" stroke="#c4c4c4" stroke-width="0.5"/>
    <!-- holes -->
    <circle cx="5.6" cy="4.8" r="2.5" fill="#111113"/>
    <circle cx="3.2" cy="12" r="2.8" fill="#1a1a1c"/>
    <circle cx="3.4" cy="12" r="1.3" fill="#dcdcdc"/>
    <circle cx="38.1" cy="5.2" r="2.8" fill="#1a1a1c"/>
    <circle cx="38.1" cy="5.2" r="1.5" fill="#d8dadc"/>
    <circle cx="44.5" cy="6.8" r="2.5" fill="#111113"/>
    <circle cx="43.4" cy="6.3" r="2.1" fill="#f4f4f4"/>
    <circle cx="46.2" cy="42.2" r="2.5" fill="#1a1a1c"/>
    <circle cx="46.2" cy="42.2" r="1.3" fill="#d8dadc"/>
    <circle cx="44.8" cy="48.3" r="2.5" fill="#111113"/>
    <circle cx="43.7" cy="47.8" r="2.1" fill="#f4f4f4"/>
    <circle cx="5.6" cy="47.8" r="2.5" fill="#2a2a2c"/>
    <circle cx="12" cy="50.2" r="2.8" fill="#1a1a1c"/>
    <circle cx="12" cy="50.2" r="1.5" fill="#d8dadc"/>
    <!-- ring -->
    <ellipse cx="25.75" cy="26.9" rx="21.1" ry="22.75" fill="#363638"/>
    <ellipse cx="25.75" cy="26.9" rx="20.3" ry="21.9" fill="#4e4d4d"/>
    <g fill="#525152" stroke="#161616" stroke-width="1.2" stroke-linejoin="round">
      <path d="M13.79,11.54 A18.6,20.05 0 0,1 37.71,11.54 L34.88,15.17 A14.2,15.31 0 0,0 16.62,15.17 Z"/>
      <path d="M40.00,14.01 A18.6,20.05 0 0,1 40.00,39.79 L36.63,36.74 A14.2,15.31 0 0,0 36.63,17.06 Z"/>
      <path d="M37.71,42.26 A18.6,20.05 0 0,1 13.79,42.26 L16.62,38.63 A14.2,15.31 0 0,0 34.88,38.63 Z"/>
      <path d="M11.50,39.79 A18.6,20.05 0 0,1 11.50,14.01 L14.87,17.06 A14.2,15.31 0 0,0 14.87,36.74 Z"/>
    </g>
    <circle cx="26" cy="27.1" r="10.2" fill="#404041" stroke="#222223" stroke-width="1.4"/>
    <!-- shaft -->
    <path d="M22.2,19.9 L35,19 L35,31 L22.2,31.6 Z" fill="url(#shaftg)"/>
    <ellipse cx="22.4" cy="25.75" rx="2" ry="5.85" fill="#8a8a8c"/>
    <path d="M21.2,23 Q22,20.6 24.5,20.3 L33,19.8" fill="none" stroke="#c4c4c6" stroke-width="0.9"/>
    <circle cx="35.2" cy="24.55" r="6" fill="#e8e8e6"/>
    <circle cx="35.3" cy="24.4" r="4.6" fill="#fafaf8"/>
    <circle cx="35.2" cy="24.4" r="3" fill="#e2e2e0"/>
    <circle cx="35.1" cy="24.4" r="2" fill="#141416"/>
    <path d="M35.8,16.4 L38.6,17 L37.8,19.2 L35.1,18.6Z" fill="#8a7e78"/>
  </g>
</svg>
</body></html>
